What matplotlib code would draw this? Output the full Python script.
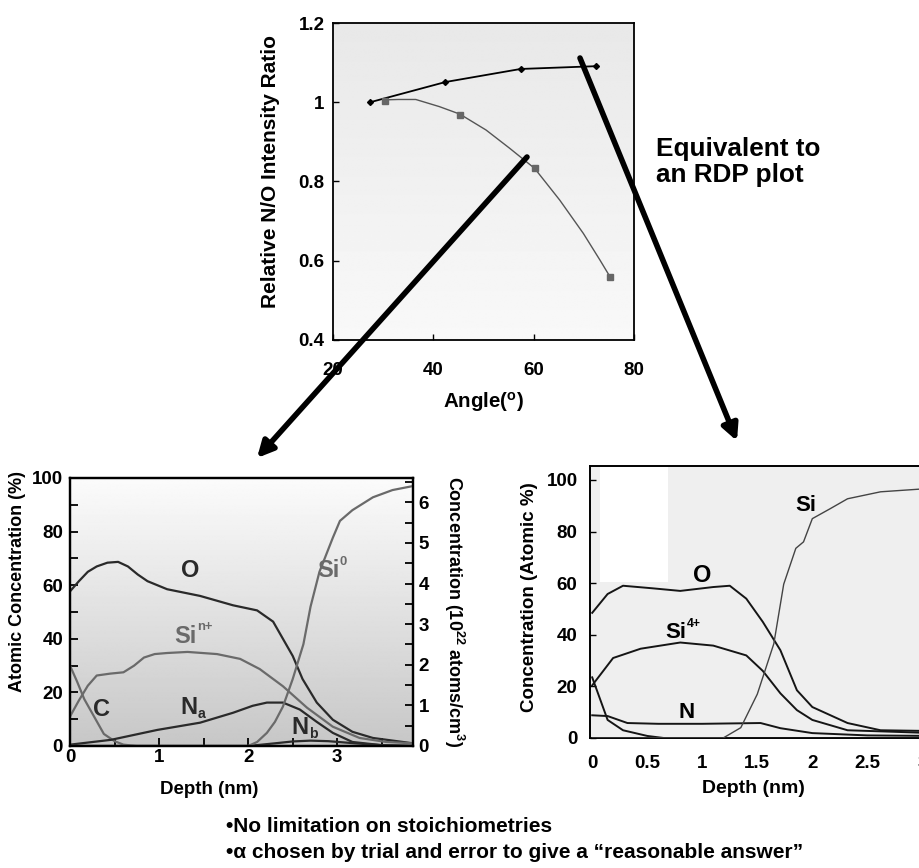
import numpy as np
import matplotlib.pyplot as plt
from matplotlib.patches import FancyArrowPatch, Rectangle

plt.rcParams['font.family'] = ['Liberation Sans', 'DejaVu Sans']
plt.rcParams['font.weight'] = 'bold'
plt.rcParams['mathtext.fontset'] = 'custom'
plt.rcParams['mathtext.rm'] = 'Liberation Sans:bold'
plt.rcParams['mathtext.it'] = 'Liberation Sans:bold'
plt.rcParams['mathtext.bf'] = 'Liberation Sans:bold'

# --- angle-resolved N/O ratio ---
angle_a = [27.4, 42.4, 57.4, 72.4]
ratio_a = [1.0, 1.051, 1.084, 1.091]
angle_b = [30.4, 45.4, 60.2, 75.2]
ratio_b = [1.003, 0.968, 0.834, 0.559]
# smoothed trace of the second series
trace_angle_b = [30.2, 33.0, 36.5, 41.2, 45.3, 50.5, 55.2, 60.2, 65.2, 69.9, 73.2, 75.2]
trace_ratio_b = [1.006, 1.007, 1.007, 0.989, 0.970, 0.930, 0.884, 0.833, 0.753, 0.669, 0.602, 0.560]

# --- reconstructed profile (left) ---
o_depth = [0, 0.1, 0.2, 0.3, 0.42, 0.54, 0.65, 0.76, 0.87, 1.09, 1.46, 1.83, 2.1, 2.28, 2.39,
           2.5, 2.61, 2.77, 2.95, 3.17, 3.4, 3.85]
o_conc = [57.7, 61.5, 65, 67, 68.4, 68.7, 67, 64, 61.5, 58.5, 56, 52.5, 50.6, 46.4, 40,
          33.6, 25, 16.2, 9.8, 5.3, 3, 1]
sin_depth = [0, 0.1, 0.2, 0.3, 0.45, 0.6, 0.72, 0.83, 0.95, 1.09, 1.32, 1.65, 1.91, 2.13, 2.39,
             2.66, 2.95, 3.25, 3.55, 3.85]
sin_conc = [11, 17, 22.5, 26.3, 27, 27.5, 30, 33, 34.3, 34.7, 35.1, 34.3, 32.5, 28.7, 22.3,
            14.3, 7.2, 3, 1.5, 1]
c_depth = [0, 0.08, 0.16, 0.27, 0.38, 0.5, 0.6, 0.75, 3.85]
c_conc = [30, 24, 17.5, 11, 4.5, 1.8, 0.5, 0, 0]
na_depth = [0, 0.46, 0.98, 1.46, 1.83, 2.05, 2.21, 2.39, 2.58, 2.77, 2.95, 3.17, 3.5, 3.85]
na_conc = [0.5, 2.3, 6, 8.7, 12.4, 15, 16.2, 16.2, 13.6, 9, 4.9, 1.5, 0.3, 0]
nb_depth = [0, 2.0, 2.3, 2.5, 2.7, 2.9, 3.2, 3.5, 3.85]
nb_conc = [0, 0, 1, 1.7, 2, 1.8, 1, 0.3, 0]
si0_depth = [0, 2.0, 2.1, 2.21, 2.3, 2.39, 2.5, 2.62, 2.7, 2.8, 2.95, 3.03, 3.17, 3.4, 3.62, 3.85]
si0_conc = [0, 0, 1.5, 4.9, 9, 14.7, 25, 38, 52, 65, 77.7, 84, 88, 92.8, 95.5, 97]

# --- RDP profile (right) ---
r_o_depth = [0, 0.14, 0.28, 0.55, 0.8, 1.1, 1.25, 1.4, 1.55, 1.71, 1.86, 2.0, 2.32, 2.62, 3.1]
r_o_conc = [48.5, 55.8, 59, 58, 57, 58.5, 59, 54, 45, 34, 18.5, 12, 5.8, 3, 2.7]
r_si4_depth = [0, 0.19, 0.44, 0.8, 1.1, 1.4, 1.55, 1.71, 1.86, 2.0, 2.32, 3.1]
r_si4_conc = [20.4, 31, 34.6, 37, 35.8, 32, 26, 17.3, 10.8, 7, 3, 1.9]
r_c_depth = [0, 0.14, 0.28, 0.5, 0.65, 3.1]
r_c_conc = [23.5, 7, 3, 0.8, 0, 0]
r_n_depth = [0, 0.14, 0.32, 0.6, 1.0, 1.53, 1.71, 2.0, 2.5, 3.1]
r_n_conc = [8.8, 8.5, 5.8, 5.5, 5.5, 5.8, 3.8, 1.9, 1.0, 0.8]
r_si_depth = [0, 1.19, 1.35, 1.5, 1.65, 1.74, 1.85, 1.92, 2.0, 2.16, 2.32, 2.62, 3.1]
r_si_conc = [0, 0, 4, 17, 36.5, 59.6, 73.5, 76, 85, 88.8, 92.7, 95.4, 96.8]

W, H = 919, 868
fig = plt.figure(figsize=(W / 100, H / 100), dpi=100)


def box(x0, y0, x1, y1):
    # pixel box (top-left origin) -> figure fraction rect
    return [x0 / W, 1 - y1 / H, (x1 - x0) / W, (y1 - y0) / H]


def gradient(ax, top, bottom):
    g = np.linspace(top, bottom, 256).reshape(-1, 1)
    ax.imshow(g, cmap='gray', vmin=0, vmax=1, aspect='auto', extent=(0, 1, 0, 1),
              transform=ax.transAxes, zorder=0, interpolation='bilinear')


def species(ax, x, y, base, sup=None, sub=None, color='black', size=17):
    # element label with a small raised or lowered tag
    t = ax.text(x, y, base, color=color, fontsize=size, fontweight='bold',
                ha='center', va='center', zorder=5)
    if sup:
        ax.annotate(sup, xy=(1.02, 0.62), xycoords=t, color=color, fontsize=size * 0.55,
                    fontweight='bold', ha='left', va='bottom', zorder=5)
    if sub:
        ax.annotate(sub, xy=(1.02, 0.2), xycoords=t, color=color, fontsize=size * 0.6,
                    fontweight='bold', ha='left', va='center', zorder=5)


# top panel
ax1 = fig.add_axes(box(333, 23, 634, 340))
gradient(ax1, 0.91, 0.975)
ax1.plot(angle_a, ratio_a, color='black', lw=1.3, marker='D', ms=3, zorder=3)
ax1.plot(trace_angle_b, trace_ratio_b, color='#555555', lw=1.0, zorder=3)
ax1.plot(angle_b, ratio_b, ls='none', color='#666666', marker='s', ms=4.5, zorder=3)
ax1.set_xlim(20, 80)
ax1.set_ylim(0.4, 1.2)
ax1.set_xticks([20, 40, 60, 80])
ax1.set_yticks([0.4, 0.6, 0.8, 1.0, 1.2])
ax1.set_yticklabels(['0.4', '0.6', '0.8', '1', '1.2'])
ax1.tick_params(direction='in', length=4, width=1, labelsize=13.5)
ax1.tick_params(axis='x', pad=16)
ax1.tick_params(axis='y', pad=6)
for s in ax1.spines.values():
    s.set_linewidth(1.3)
ax1.set_ylabel('Relative N/O Intensity Ratio', fontsize=15, fontweight='bold')
ax1.yaxis.set_label_coords(-0.176, 0.53)
ax1.set_xlabel('Angle($^o$)', fontsize=14.8, fontweight='bold')
ax1.xaxis.set_label_coords(0.5, -0.158)

# bottom-left panel
ax2 = fig.add_axes(box(70, 478, 413, 746))
gradient(ax2, 0.985, 0.78)
dark, grey = '#2a2a2a', '#6a6a6a'
ax2.plot(o_depth, o_conc, color=dark, lw=1.6, zorder=3)
ax2.plot(sin_depth, sin_conc, color=grey, lw=1.6, zorder=3)
ax2.plot(c_depth, c_conc, color=grey, lw=1.6, zorder=3)
ax2.plot(na_depth, na_conc, color=dark, lw=1.6, zorder=3)
ax2.plot(nb_depth, nb_conc, color=dark, lw=1.6, zorder=3)
ax2.plot(si0_depth, si0_conc, color=grey, lw=1.6, zorder=3)
ax2.set_xlim(0, 3.85)
ax2.set_ylim(0, 100)
ax2.set_xticks([0, 1, 2, 3])
ax2.set_xticks([0.5, 1.5, 2.5, 3.5], minor=True)
ax2.set_yticks(range(0, 101, 20))
ax2.set_yticks(range(10, 100, 20), minor=True)
ax2.tick_params(which='both', direction='in', length=6, width=1.3, labelsize=13.5)
ax2.tick_params(axis='y', pad=5)
ax2.tick_params(axis='x', pad=2)
for s in ax2.spines.values():
    s.set_linewidth(1.6)
ax2.set_ylabel('Atomic Concentration (%)', fontsize=13, fontweight='bold')
ax2.yaxis.set_label_coords(-0.128, 0.612)
ax2.set_xlabel('Depth (nm)', fontsize=13.5, fontweight='bold')
ax2.xaxis.set_label_coords(0.405, -0.13)
ax2r = ax2.twinx()
ax2r.set_ylim(0, 6.6)
ax2r.set_yticks(range(0, 7))
ax2r.set_yticks(np.arange(0.5, 6.6, 1.0), minor=True)
ax2r.tick_params(which='both', direction='in', length=6, width=1.3, labelsize=13.5, pad=4)
ax2r.set_ylabel('Concentration (10$^{22}$ atoms/cm$^3$)', fontsize=13, fontweight='bold',
                rotation=270)
ax2r.yaxis.set_label_coords(1.155, 0.5)
for s in ax2r.spines.values():
    s.set_linewidth(1.6)
species(ax2, 1.35, 65.5, 'O', color=dark)
species(ax2, 2.9, 65.5, 'Si', sup='0', color=grey)
species(ax2, 1.3, 41, 'Si', sup='n+', color=grey)
species(ax2, 0.35, 13.6, 'C', color=dark)
species(ax2, 1.33, 14.5, 'N', sub='a', color=dark)
species(ax2, 2.58, 7, 'N', sub='b', color=dark)

# bottom-right panel
ax3 = fig.add_axes(box(590, 466, 940, 738))
ax3.set_facecolor('#efefef')
ax3.add_patch(Rectangle((0.07, 60.5), 0.62, 44.5, color='white', zorder=1, lw=0))
for d, c in [(r_o_depth, r_o_conc), (r_si4_depth, r_si4_conc), (r_c_depth, r_c_conc),
             (r_n_depth, r_n_conc)]:
    ax3.plot(d, c, color='#151515', lw=1.4, zorder=3)
ax3.plot(r_si_depth, r_si_conc, color='#444444', lw=1.0, zorder=3)
ax3.set_xlim(-0.02, 3.16)
ax3.set_ylim(0, 105.4)
ax3.set_xticks([0, 0.5, 1, 1.5, 2, 2.5, 3])
ax3.set_xticklabels(['0', '0.5', '1', '1.5', '2', '2.5', '3'])
ax3.set_yticks(range(0, 101, 20))
ax3.tick_params(axis='y', direction='in', length=4, width=1, labelsize=13.5, pad=9)
ax3.tick_params(axis='x', length=0, labelsize=13.5, pad=12)
for s in ax3.spines.values():
    s.set_linewidth(1.4)
ax3.set_ylabel('Concentration (Atomic %)', fontsize=13.5, fontweight='bold')
ax3.yaxis.set_label_coords(-0.149, 0.518)
ax3.set_xlabel('Depth (nm)', fontsize=14, fontweight='bold')
ax3.xaxis.set_label_coords(0.466, -0.155)
species(ax3, 1.94, 90, 'Si', size=16)
species(ax3, 1.0, 63, 'O', size=17)
species(ax3, 0.76, 41, 'Si', sup='4+', size=16)
species(ax3, 0.86, 9.8, 'N', size=16)

# arrows linking the angle plot to the two profiles
for (x0, y0), (x1, y1) in [((527, 157), (257, 458)), ((580, 58), (737, 441))]:
    fig.patches.append(FancyArrowPatch((x0 / W, 1 - y0 / H), (x1 / W, 1 - y1 / H),
                                       transform=fig.transFigure, arrowstyle='-|>',
                                       mutation_scale=24, lw=4, color='black',
                                       shrinkA=0, shrinkB=0, zorder=10))

fig.text(656 / W, 1 - 162 / H, 'Equivalent to\nan RDP plot', fontsize=18.8, fontweight='bold',
         ha='left', va='center', linespacing=1.12)

fig.text(226 / W, 1 - 826 / H, '•No limitation on stoichiometries',
         fontsize=15, fontweight='bold', ha='left', va='center')
fig.text(226 / W, 1 - 853 / H, '•α chosen by trial and error to give a “reasonable answer”',
         fontsize=15, fontweight='bold', ha='left', va='center')

fig.savefig('out.png', dpi=100)
